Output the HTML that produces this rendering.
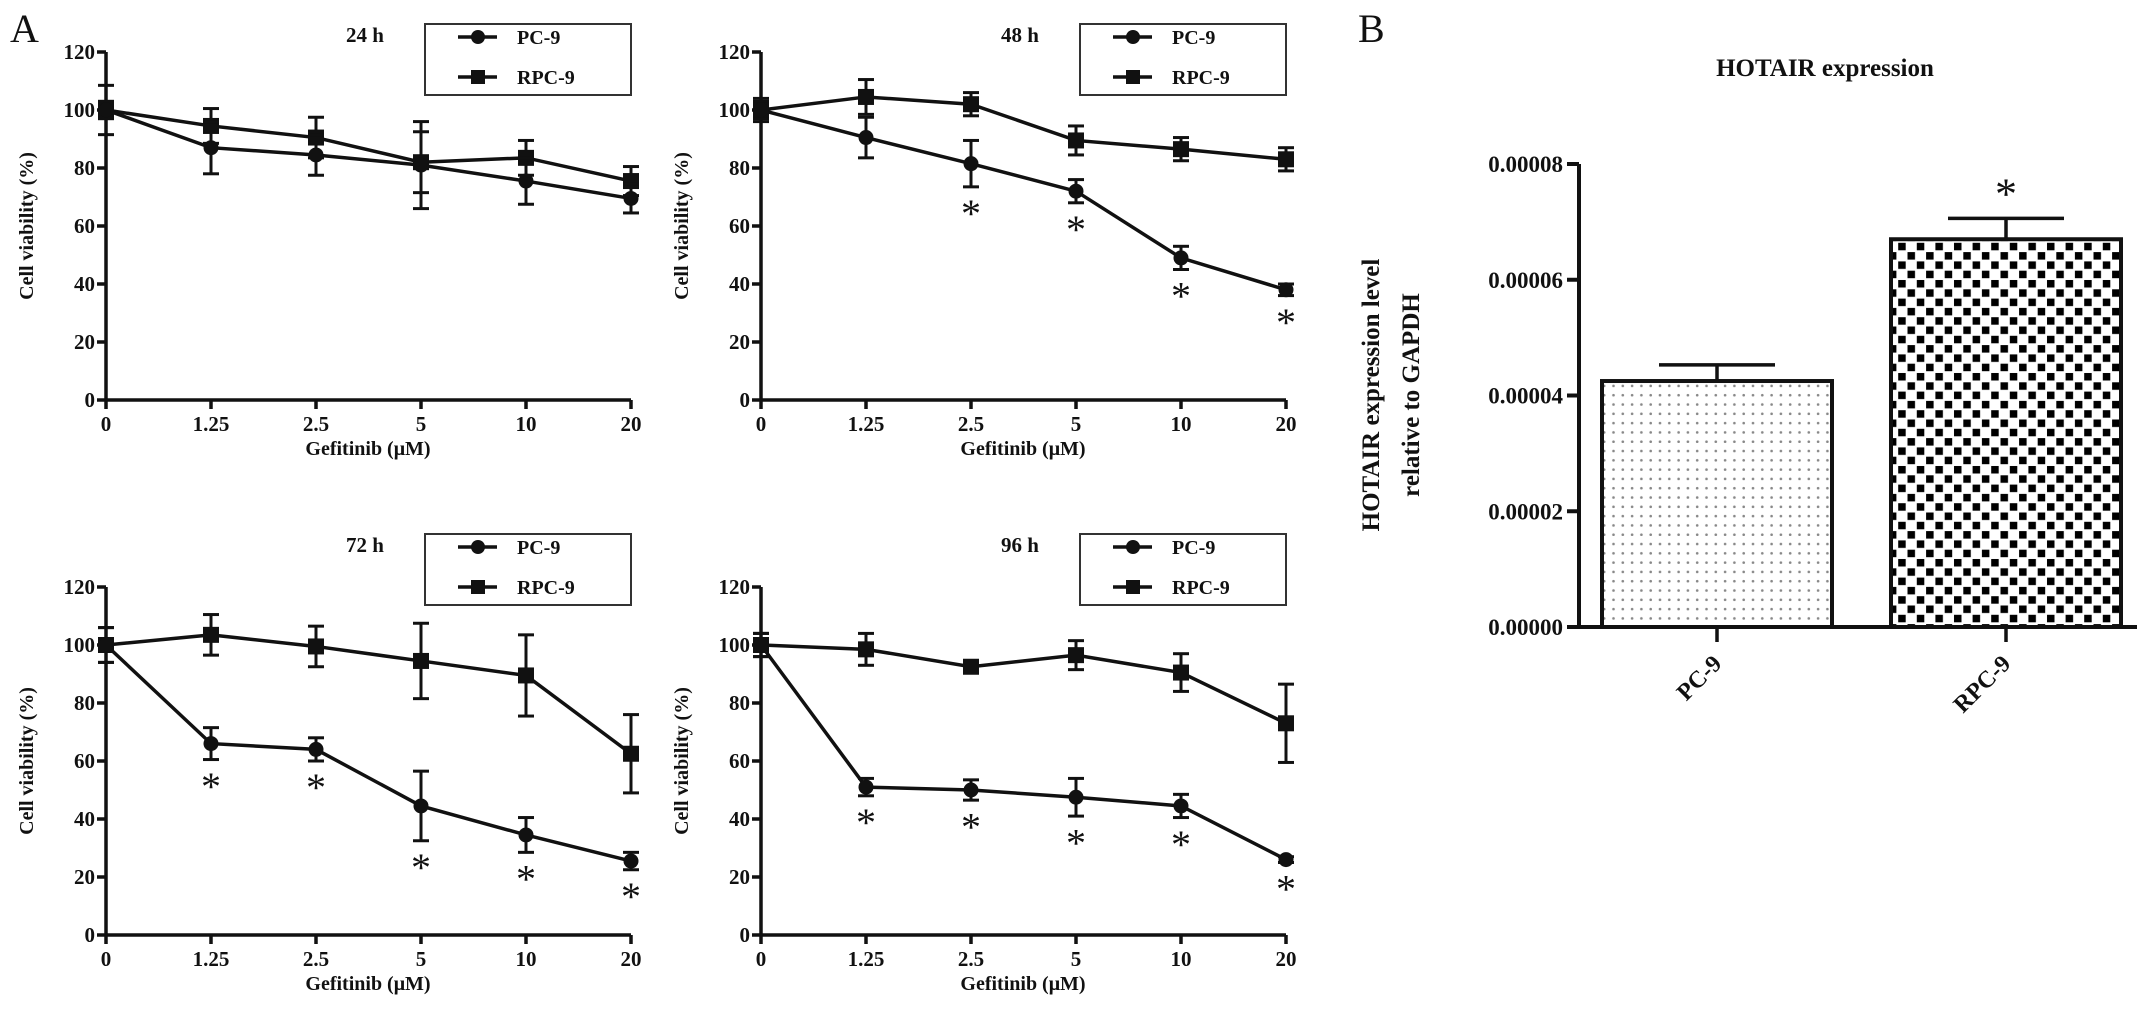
<!DOCTYPE html>
<html><head><meta charset="utf-8"><style>
body{margin:0;background:#fff;}
svg{display:block;}
text{font-family:"Liberation Serif",serif;font-weight:bold;fill:#111;}
</style></head><body>
<svg id="fig" width="2150" height="1026" viewBox="0 0 2150 1026" xmlns="http://www.w3.org/2000/svg">
<defs>
<pattern id="dots" width="9.3" height="9.3" patternUnits="userSpaceOnUse"><rect width="9.3" height="9.3" fill="#fff"/><circle cx="4.6" cy="4.6" r="1.3" fill="#888"/></pattern>
<pattern id="checks" width="18.6" height="18.6" patternUnits="userSpaceOnUse"><rect width="18.6" height="18.6" fill="#fff"/><rect x="1" y="1" width="7.5" height="7.5" fill="#000"/><rect x="10.3" y="10.3" width="7.5" height="7.5" fill="#000"/></pattern>
</defs>
<text x="10" y="42" style="font-weight:normal;font-size:40px">A</text>
<text x="1358" y="42" style="font-weight:normal;font-size:40px">B</text>
</svg>
<script>
const doses = ["0","1.25","2.5","5","10","20"];
const yTicks = [0,20,40,60,80,100,120];
const panelTitles = ["24 h","48 h","72 h","96 h"];
const pc9 = [[100,87,84.5,81,75.5,69.5],[100,90.5,81.5,72,49,38],[100,66,64,44.5,34.5,25.5],[100,51,50,47.5,44.5,26]];
const pc9Err = [[8.5,9,7,15,8,5],[3,7,8,4,4,2],[6,5.5,4,12,6,3],[4,3,3.5,6.5,4,1]];
const rpc9 = [[100,94.5,90.5,82,83.5,75.5],[100,104.5,102,89.5,86.5,83],[100,103.5,99.5,94.5,89.5,62.5],[100,98.5,92.5,96.5,90.5,73]];
const rpc9Err = [[3,6,7,10.5,6,5],[4,6,4,5,4,4],[6,7,7,13,14,13.5],[4,5.5,1,5,6.5,13.5]];
const sig = [[0,0,0,0,0,0],[0,0,1,1,1,1],[0,1,1,1,1,1],[0,1,1,1,1,1]];
const barCats = ["PC-9","RPC-9"];
const barVals = [0.0000425,0.000067];
const barErr = [0.0000028,0.0000036];
const barSig = [0,1];
const barTicks = ["0.00000","0.00002","0.00004","0.00006","0.00008"];

const NS="http://www.w3.org/2000/svg";
const svg=document.getElementById('fig');
function mk(tag,attrs,parent,txt){const e=document.createElementNS(NS,tag);for(const k in attrs)e.setAttribute(k,attrs[k]);if(txt!==undefined)e.textContent=txt;(parent||svg).appendChild(e);return e;}

const panels=[{x:106,y:400,lo:376,to:365},{x:761,y:400,lo:376,to:365},{x:106,y:935,lo:401,to:390},{x:761,y:935,lo:401,to:390}];
panels.forEach((p,pi)=>{
  const g=mk('g',{});
  
  
  const xs=i=>p.x+i*105;
  const ys=v=>p.y-v*348/120;
  const st={stroke:'#111','stroke-width':3.5,fill:'none'};
  const ya=mk('line',Object.assign({x1:p.x,y1:ys(120),x2:p.x,y2:p.y},st),g);
  
  const xa=mk('line',Object.assign({x1:p.x,y1:p.y,x2:xs(5),y2:p.y},st),g);
  
  yTicks.forEach(t=>{
    mk('line',Object.assign({x1:p.x-9,y1:ys(t),x2:p.x,y2:ys(t)},st),g);
    const tl=mk('text',{x:p.x-11,y:ys(t)+7,'text-anchor':'end','font-size':21},g,String(t));
    
  });
  doses.forEach((d,i)=>{
    mk('line',Object.assign({x1:xs(i),y1:p.y,x2:xs(i),y2:p.y+9},st),g);
    const tl=mk('text',{x:xs(i),y:p.y+31,'text-anchor':'middle','font-size':21},g,d);
    
  });
  const xt=mk('text',{x:p.x+262,y:p.y+55,'text-anchor':'middle','font-size':20},g,'Gefitinib (\u03bcM)');
  
  const cy=p.y-174;
  const yt=mk('text',{x:p.x-73,y:cy,'text-anchor':'middle','font-size':20,transform:`rotate(-90 ${p.x-73} ${cy})`},g,'Cell viability (%)');
  
  const tt=mk('text',{x:p.x+259,y:p.y-p.to+7,'text-anchor':'middle','font-size':21},g,panelTitles[pi]);
  
  const lx=p.x+319, ly=p.y-p.lo;
  const lg=mk('g',{},g);
  
  mk('rect',{x:lx,y:ly,width:206,height:71,fill:'#fff',stroke:'#333','stroke-width':2},lg);
  mk('line',{x1:lx+33,y1:ly+13,x2:lx+72,y2:ly+13,stroke:'#111','stroke-width':3.5},lg);
  mk('circle',{cx:lx+53,cy:ly+13,r:7,fill:'#111'},lg);
  mk('text',{x:lx+92,y:ly+20,'font-size':20},lg,'PC-9');
  mk('line',{x1:lx+33,y1:ly+53,x2:lx+72,y2:ly+53,stroke:'#111','stroke-width':3.5},lg);
  mk('rect',{x:lx+46,y:ly+46,width:14,height:14,fill:'#111'},lg);
  mk('text',{x:lx+92,y:ly+60,'font-size':20},lg,'RPC-9');
  [[rpc9[pi],rpc9Err[pi],'sq','rpc9'],[pc9[pi],pc9Err[pi],'ci','pc9']].forEach(([vals,errs,shape,nm])=>{
    const sg=mk('g',{},g);
    
    mk('polyline',{points:vals.map((v,i)=>xs(i)+','+ys(v)).join(' '),fill:'none',stroke:'#111','stroke-width':3.5},sg);
    vals.forEach((v,i)=>{
      const e=errs[i];
      mk('line',{x1:xs(i),y1:ys(v+e),x2:xs(i),y2:ys(v-e),stroke:'#111','stroke-width':3},sg);
      mk('line',{x1:xs(i)-8,y1:ys(v+e),x2:xs(i)+8,y2:ys(v+e),stroke:'#111','stroke-width':3},sg);
      mk('line',{x1:xs(i)-8,y1:ys(v-e),x2:xs(i)+8,y2:ys(v-e),stroke:'#111','stroke-width':3},sg);
      let m;
      if(shape==='ci'){m=mk('circle',{cx:xs(i),cy:ys(v),r:7.5,fill:'#111'},sg);}
      else{m=mk('rect',{x:xs(i)-8,y:ys(v)-8,width:16,height:16,fill:'#111'},sg);}
      
      
    });
  });
  sig[pi].forEach((s,i)=>{
    if(!s)return;
    const v=pc9[pi][i]-pc9Err[pi][i]-8;
    const a=mk('text',{x:xs(i),y:ys(v)+17,'text-anchor':'middle','font-size':40,style:'font-weight:normal'},g,'*');
    
  });
});

(function(){
  const g=mk('g',{});
  
  const ax=1579, y0=627, yTop=164, xEnd=2137;
  const ys=v=>y0-v*(y0-yTop)/0.00008;
  const centers=[1717,2006], bw=230;
  const pats=['url(#dots)','url(#checks)'];
  const t=mk('text',{x:1825,y:76,'text-anchor':'middle','font-size':25},g,'HOTAIR expression');
  
  barVals.forEach((v,i)=>{
    const e=barErr[i];
    mk('line',{x1:centers[i],y1:ys(v),x2:centers[i],y2:ys(v+e),stroke:'#111','stroke-width':3.5},g);
    mk('line',{x1:centers[i]-58,y1:ys(v+e),x2:centers[i]+58,y2:ys(v+e),stroke:'#111','stroke-width':3.5},g);
    const b=mk('rect',{x:centers[i]-bw/2,y:ys(v),width:bw,height:y0-ys(v),fill:pats[i],stroke:'#111','stroke-width':4},g);
    
    
    if(barSig[i]){
      const a=mk('text',{x:centers[i],y:ys(v+e)-10,'text-anchor':'middle','font-size':44,style:'font-weight:normal'},g,'*');
      
    }
    mk('line',{x1:centers[i],y1:y0,x2:centers[i],y2:y0+15,stroke:'#111','stroke-width':3.5},g);
    const lx=centers[i]+6, ly=y0+38;
    const cl=mk('text',{x:lx,y:ly,'text-anchor':'end','font-size':24,transform:`rotate(-45 ${lx} ${ly})`},g,barCats[i]);
    
  });
  const ya=mk('line',{x1:ax,y1:yTop,x2:ax,y2:y0+1,stroke:'#111','stroke-width':4},g);
  
  const xa=mk('line',{x1:ax,y1:y0,x2:xEnd,y2:y0,stroke:'#111','stroke-width':4},g);
  
  barTicks.forEach((lab,i)=>{
    const y=ys(i*0.00002);
    mk('line',{x1:ax-12,y1:y,x2:ax,y2:y,stroke:'#111','stroke-width':4},g);
    const tl=mk('text',{x:ax-16,y:y+8,'text-anchor':'end','font-size':23},g,lab);
    
  });
  const yt1=mk('text',{x:1379,y:395,'text-anchor':'middle','font-size':25,transform:'rotate(-90 1379 395)'},g,'HOTAIR expression level');
  
  const yt2=mk('text',{x:1419,y:395,'text-anchor':'middle','font-size':25,transform:'rotate(-90 1419 395)'},g,'relative to GAPDH');
  
})();
</script>
</body></html>
